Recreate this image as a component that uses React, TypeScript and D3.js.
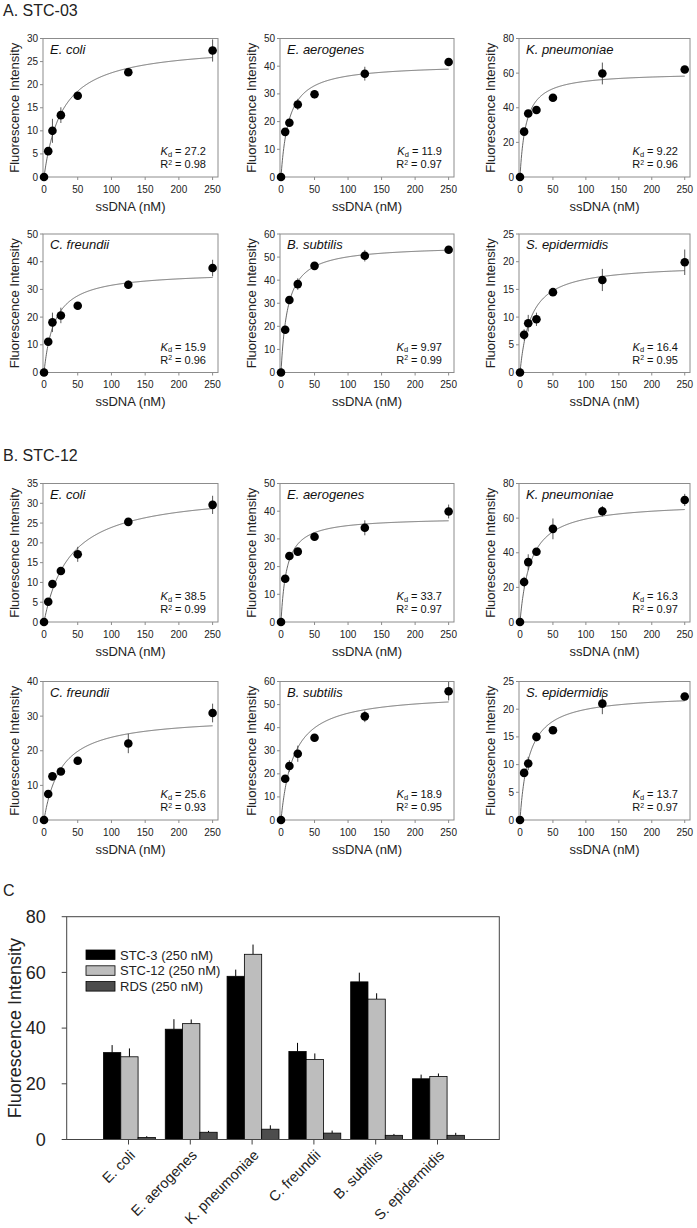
import React from "react";
import * as d3 from "d3";

const FONT = "Arial, 'Liberation Sans', Helvetica, sans-serif";

// ---------- data ----------
const concentrations = [0, 6.25, 12.5, 25, 50, 125, 250];
const species = ["E. coli", "E. aerogenes", "K. pneumoniae", "C. freundii", "B. subtilis", "S. epidermidis"];

// Panel A: STC-03
const stc03Values = [
  [0, 5.6, 10.0, 13.4, 17.6, 22.7, 27.4],
  [0, 16.3, 19.6, 26.2, 29.9, 37.3, 41.5],
  [0, 26.2, 36.7, 38.7, 45.8, 59.8, 62.1],
  [0, 11.1, 18.1, 20.6, 24.1, 31.7, 37.7],
  [0, 18.5, 31.4, 38.3, 46.2, 50.6, 53.2],
  [0, 6.8, 8.9, 9.6, 14.5, 16.7, 19.9],
];
const stc03Errors = [
  [0, 0.8, 2.6, 1.7, 0.8, 0.7, 2.4],
  [0, 1.0, 1.0, 2.0, 1.5, 2.5, 0.8],
  [0, 1.0, 1.2, 1.0, 1.0, 6.3, 1.0],
  [0, 1.0, 3.5, 2.8, 1.0, 1.5, 3.0],
  [0, 1.0, 1.5, 2.5, 1.0, 2.5, 1.5],
  [0, 1.0, 1.5, 1.2, 0.4, 2.0, 2.3],
];
const stc03Kd = ["27.2", "11.9", "9.22", "15.9", "9.97", "16.4"];
const stc03R2 = ["0.98", "0.97", "0.96", "0.96", "0.99", "0.95"];
const stc03FitK = [27.2, 11.9, 9.22, 15.9, 9.97, 16.4];
const stc03FitMax = [28.7, 40.8, 60.4, 36.5, 55.1, 19.6];
const stc03YMax = [30, 50, 80, 50, 60, 25];
const stc03YStep = [5, 10, 20, 10, 10, 5];

// Panel B: STC-12
const stc12Values = [
  [0, 5.1, 9.6, 12.9, 17.1, 25.3, 29.6],
  [0, 15.6, 23.8, 25.4, 30.8, 34.0, 39.9],
  [0, 23.1, 34.6, 40.6, 53.8, 64.0, 70.5],
  [0, 7.5, 12.6, 14.0, 17.1, 22.1, 30.9],
  [0, 17.9, 23.4, 28.7, 35.6, 44.9, 55.8],
  [0, 8.5, 10.2, 15.0, 16.2, 21.0, 22.3],
];
const stc12Errors = [
  [0, 0.6, 0.8, 1.0, 1.9, 0.8, 2.3],
  [0, 1.0, 1.0, 1.0, 1.3, 2.7, 2.5],
  [0, 3.0, 4.5, 2.0, 6.0, 3.0, 3.5],
  [0, 0.8, 0.8, 0.8, 0.8, 2.8, 2.7],
  [0, 1.5, 2.5, 3.5, 1.5, 2.5, 4.0],
  [0, 0.5, 1.2, 0.8, 0.4, 1.9, 0.5],
];
const stc12Kd = ["38.5", "33.7", "16.3", "25.6", "18.9", "13.7"];
const stc12R2 = ["0.99", "0.97", "0.97", "0.93", "0.95", "0.97"];
const stc12FitK = [38.5, 8.6, 16.3, 25.6, 18.9, 13.7];
const stc12FitMax = [33.1, 37.8, 69.2, 30.0, 55.0, 22.7];
const stc12YMax = [35, 50, 80, 40, 60, 25];
const stc12YStep = [5, 10, 20, 10, 10, 5];

const xTickValues = [0, 50, 100, 150, 200, 250];

// Panel C: bar chart
const barSeries = ["STC-3 (250 nM)", "STC-12 (250 nM)", "RDS (250 nM)"];
const barSTC3 = [31.2, 39.6, 58.6, 31.6, 56.6, 21.8];
const barSTC3Err = [2.7, 3.6, 2.4, 3.1, 3.3, 1.5];
const barSTC12 = [29.7, 41.6, 66.5, 28.7, 50.4, 22.6];
const barSTC12Err = [3.0, 1.5, 3.5, 2.2, 2.1, 1.1];
const barRDS = [0.7, 2.6, 3.7, 2.3, 1.5, 1.5];
const barRDSErr = [0.5, 0.5, 1.4, 0.9, 0.5, 0.9];
const barYTicks = [0, 20, 40, 60, 80];

// ---------- layout ----------
const colLeft = [43, 280, 519];
const colWidth = [175, 174, 171];
const rowTop = [38.5, 234, 483.5, 681.5];
const plotH = 138.5;

const frameColor = "#8c8c8c";
const textColor = "#222";

function BindingPanel(props: any) {
  const { left, top, width, height, name, values, errors, yMax, yStep, kd, r2, fitK, fitMax } = props;
  const right = left + width;
  const bottom = top + height;
  const x = d3.scaleLinear().domain([-1.5, 258]).range([left, right]);
  const y = d3.scaleLinear().domain([0, yMax]).range([bottom, top]);
  const yTicks = d3.range(0, yMax + yStep / 2, yStep);
  const curve = d3.range(0, 250.5, 0.5).map((c) => [c, (fitMax * c) / (fitK + c)] as [number, number]);
  const line = d3
    .line<[number, number]>()
    .x((d) => x(d[0]))
    .y((d) => y(d[1]));
  return (
    <g>
      <rect x={left} y={top} width={width} height={height} fill="none" stroke={frameColor} strokeWidth={1} />
      {yTicks.map((t) => (
        <g key={"y" + t}>
          <line x1={left - 3} x2={left} y1={y(t)} y2={y(t)} stroke={frameColor} />
          <text x={left - 5} y={y(t)} dy="0.35em" textAnchor="end" fontSize={10} fill={textColor}>
            {t}
          </text>
        </g>
      ))}
      {xTickValues.map((t) => (
        <g key={"x" + t}>
          <line x1={x(t)} x2={x(t)} y1={bottom} y2={bottom + 3} stroke={frameColor} />
          <text x={x(t)} y={bottom + 15.5} textAnchor="middle" fontSize={10} fill={textColor}>
            {t}
          </text>
        </g>
      ))}
      <text x={(left + right) / 2} y={bottom + 33.5} textAnchor="middle" fontSize={13} fill={textColor}>
        ssDNA (nM)
      </text>
      <text
        transform={`translate(${left - 29},${(top + bottom) / 2}) rotate(-90)`}
        dy="0.35em"
        textAnchor="middle"
        fontSize={13}
        fill={textColor}
      >
        Fluorescence Intensity
      </text>
      <path d={line(curve) || ""} fill="none" stroke="#555" strokeWidth={0.9} />
      {concentrations.map((c, i) =>
        errors[i] > 0 ? (
          <line
            key={"e" + i}
            x1={x(c)}
            x2={x(c)}
            y1={y(values[i] - errors[i])}
            y2={y(values[i] + errors[i])}
            stroke="#444"
            strokeWidth={0.9}
          />
        ) : null
      )}
      {concentrations.map((c, i) => (
        <circle key={"p" + i} cx={x(c)} cy={y(values[i])} r={4.3} fill="#000" />
      ))}
      <text x={left + 7} y={top + 15} fontSize={13} fontStyle="italic" fill="#111">
        {name}
      </text>
      <text x={right - 12} y={bottom - 22} textAnchor="end" fontSize={11} fill="#111">
        <tspan fontStyle="italic">K</tspan>
        <tspan fontSize={7.5} dy={1.5}>
          d
        </tspan>
        <tspan dy={-1.5}>{" = " + kd}</tspan>
      </text>
      <text x={right - 12} y={bottom - 9} textAnchor="end" fontSize={11} fill="#111">
        <tspan>R</tspan>
        <tspan fontSize={7} dy={-3.5}>
          2
        </tspan>
        <tspan dy={3.5}>{" = " + r2}</tspan>
      </text>
    </g>
  );
}

function BarChart() {
  const left = 66.7;
  const right = 499.3;
  const top = 916.7;
  const bottom = 1139.5;
  const x = d3.scaleLinear().domain([0, species.length + 1]).range([left, right]);
  const y = d3.scaleLinear().domain([0, 80]).range([bottom, top]);
  const series = [
    { vals: barSTC3, errs: barSTC3Err, fill: "#000000" },
    { vals: barSTC12, errs: barSTC12Err, fill: "#bdbdbd" },
    { vals: barRDS, errs: barRDSErr, fill: "#4d4d4d" },
  ];
  const bw = 0.28;
  const start = -0.405;
  return (
    <g>
      {series.map((s, si) =>
        species.map((sp, ci) => {
          const x0 = x(ci + 1 + start + si * bw);
          const x1 = x(ci + 1 + start + (si + 1) * bw);
          const cx = (x0 + x1) / 2;
          return (
            <g key={sp + si}>
              <line x1={cx} x2={cx} y1={y(s.vals[ci])} y2={y(s.vals[ci] + s.errs[ci])} stroke="#000" strokeWidth={1} />
              <rect x={x0} y={y(s.vals[ci])} width={x1 - x0} height={bottom - y(s.vals[ci])} fill={s.fill} stroke="#000" strokeWidth={0.8} />
            </g>
          );
        })
      )}
      <rect x={left} y={top} width={right - left} height={bottom - top} fill="none" stroke="#444" strokeWidth={1} />
      {barYTicks.map((t) => (
        <g key={"by" + t}>
          <line x1={left - 5} x2={left} y1={y(t)} y2={y(t)} stroke="#444" />
          <text x={left - 21} y={y(t)} dy="0.35em" textAnchor="end" fontSize={18} fill={textColor}>
            {t}
          </text>
        </g>
      ))}
      {species.map((sp, ci) => (
        <g key={"bx" + sp}>
          <line x1={x(ci + 1)} x2={x(ci + 1)} y1={bottom} y2={bottom + 5} stroke="#444" />
          <text
            transform={`translate(${x(ci + 1) + 4},${bottom + 13}) rotate(-45)`}
            textAnchor="end"
            dy="0.35em"
            fontSize={14.5}
            fill={textColor}
          >
            {sp}
          </text>
        </g>
      ))}
      <text
        transform={`translate(15,${(top + bottom) / 2}) rotate(-90)`}
        dy="0.35em"
        textAnchor="middle"
        fontSize={18}
        fill={textColor}
      >
        Fluorescence Intensity
      </text>
      {barSeries.map((name, i) => (
        <g key={name}>
          <rect x={86} y={950 + i * 15.8} width={29} height={9.5} fill={series[i].fill} stroke="#000" strokeWidth={0.8} />
          <text x={120} y={950 + i * 15.8 + 9.5} fontSize={13} fill={textColor}>
            {name}
          </text>
        </g>
      ))}
    </g>
  );
}

export default function App() {
  const panels: any[] = [];
  species.forEach((sp, i) => {
    const col = i % 3;
    const row = Math.floor(i / 3);
    panels.push(
      <BindingPanel
        key={"a" + i}
        left={colLeft[col]}
        top={rowTop[row]}
        width={colWidth[col]}
        height={plotH}
        name={sp}
        values={stc03Values[i]}
        errors={stc03Errors[i]}
        yMax={stc03YMax[i]}
        yStep={stc03YStep[i]}
        kd={stc03Kd[i]}
        r2={stc03R2[i]}
        fitK={stc03FitK[i]}
        fitMax={stc03FitMax[i]}
      />
    );
    panels.push(
      <BindingPanel
        key={"b" + i}
        left={colLeft[col]}
        top={rowTop[row + 2]}
        width={colWidth[col]}
        height={plotH}
        name={sp}
        values={stc12Values[i]}
        errors={stc12Errors[i]}
        yMax={stc12YMax[i]}
        yStep={stc12YStep[i]}
        kd={stc12Kd[i]}
        r2={stc12R2[i]}
        fitK={stc12FitK[i]}
        fitMax={stc12FitMax[i]}
      />
    );
  });
  return (
    <svg
      width={697}
      height={1228}
      style={{ position: "absolute", left: 0, top: 0, background: "#fff" }}
      fontFamily={FONT}
    >
      <rect width={697} height={1228} fill="#fff" />
      <text x={3} y={16} fontSize={16} fill={textColor}>
        A. STC-03
      </text>
      <text x={3} y={461} fontSize={16} fill={textColor}>
        B. STC-12
      </text>
      <text x={3} y={896} fontSize={16} fill={textColor}>
        C
      </text>
      {panels}
      <BarChart />
    </svg>
  );
}
